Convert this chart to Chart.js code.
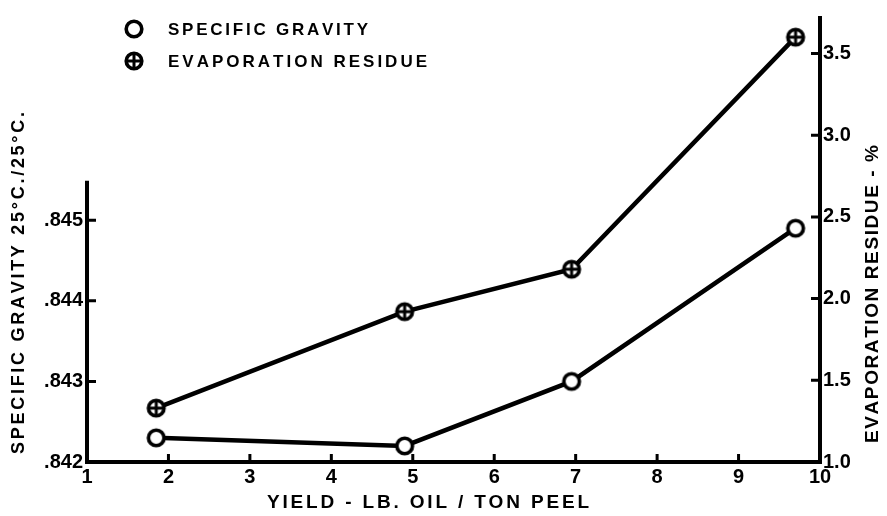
<!DOCTYPE html>
<html>
<head>
<meta charset="utf-8">
<script src="https://cdn.jsdelivr.net/npm/chart.js@4/dist/chart.umd.min.js"></script>
<style>
  html, body { margin: 0; padding: 0; background: #fff; }
  #wrap { width: 887px; height: 516px; position: relative; }
</style>
</head>
<body>
<div id="wrap"><canvas id="c" width="887" height="516"></canvas></div>
<script>
// ---- data ----
const yieldValues = [1.85, 4.9, 6.95, 9.7];            // lb. oil / ton peel
const specificGravity = [0.8423, 0.8422, 0.8430, 0.8449];
const evaporationResidue = [1.33, 1.92, 2.18, 3.60];   // %
const xTickValues = [1, 2, 3, 4, 5, 6, 7, 8, 9, 10];
const sgTickValues = [0.842, 0.843, 0.844, 0.845];
const erTickValues = [1.0, 1.5, 2.0, 2.5, 3.0, 3.5];
const seriesNames = ['SPECIFIC GRAVITY', 'EVAPORATION RESIDUE'];
const xTitle = 'YIELD - LB. OIL / TON PEEL';
const leftTitle = 'SPECIFIC GRAVITY 25°C./25°C.';
const rightTitle = 'EVAPORATION RESIDUE - %';

const INK = '#000';
const FONT = '"Liberation Sans", Arial, sans-serif';

function makeMarker(plus) {
  const c = document.createElement('canvas');
  c.width = 24; c.height = 24;
  const g = c.getContext('2d');
  g.beginPath();
  g.arc(12, 12, 7.8, 0, Math.PI * 2);
  g.fillStyle = '#fff';
  g.fill();
  g.lineWidth = 3.6;
  g.strokeStyle = INK;
  g.stroke();
  if (plus) {
    g.lineWidth = 3;
    g.beginPath();
    g.moveTo(5, 12); g.lineTo(19, 12);
    g.moveTo(12, 5); g.lineTo(12, 19);
    g.stroke();
  }
  return c;
}
const openMarker = makeMarker(false);
const plusMarker = makeMarker(true);

function spacedText(ctx, text, x, y, target) {
  // draws text starting at x with letter spacing so that total width ~ target
  const chars = [...text];
  let w = 0;
  const ws = chars.map(ch => { const m = ctx.measureText(ch).width; w += m; return m; });
  const gap = chars.length > 1 ? (target - w) / (chars.length - 1) : 0;
  let cx = x;
  chars.forEach((ch, i) => { ctx.fillText(ch, cx, y); cx += ws[i] + gap; });
}

const decorPlugin = {
  id: 'decor',
  afterDatasetsDraw(chart) {
    const ctx = chart.ctx;
    const xs = chart.scales.x, yl = chart.scales.ySG, yr = chart.scales.yER;
    ctx.save();
    ctx.strokeStyle = INK;
    ctx.lineCap = 'butt';
    // axis lines
    ctx.lineWidth = 4;
    ctx.beginPath();
    ctx.moveTo(xs.getPixelForValue(1), yl.getPixelForValue(0.84549));
    ctx.lineTo(xs.getPixelForValue(1), yl.getPixelForValue(0.842) + 2);
    ctx.moveTo(xs.getPixelForValue(1) - 2, yl.getPixelForValue(0.842));
    ctx.lineTo(xs.getPixelForValue(10) + 2, yl.getPixelForValue(0.842));
    ctx.moveTo(xs.getPixelForValue(10), yr.top);
    ctx.lineTo(xs.getPixelForValue(10), yl.getPixelForValue(0.842) + 2);
    ctx.stroke();
    // inward tick marks
    ctx.lineWidth = 3;
    ctx.beginPath();
    const x0 = xs.getPixelForValue(1), x1 = xs.getPixelForValue(10);
    const yb = yl.getPixelForValue(0.842);
    xTickValues.forEach(v => {
      if (v === 1 || v === 10) return;
      const px = xs.getPixelForValue(v);
      ctx.moveTo(px, yb); ctx.lineTo(px, yb - 8);
    });
    sgTickValues.forEach(v => {
      if (v === 0.842) return;
      const py = yl.getPixelForValue(v);
      ctx.moveTo(x0, py); ctx.lineTo(x0 + 9, py);
    });
    erTickValues.forEach(v => {
      if (v === 1.0) return;
      const py = yr.getPixelForValue(v);
      ctx.moveTo(x1, py); ctx.lineTo(x1 - 9, py);
    });
    ctx.stroke();

    // legend
    ctx.fillStyle = INK;
    ctx.font = 'bold 17px ' + FONT;
    ctx.textBaseline = 'middle';
    ctx.textAlign = 'left';
    ctx.drawImage(openMarker, 134 - 12, 29 - 12);
    ctx.drawImage(plusMarker, 134 - 12, 61 - 12);
    spacedText(ctx, seriesNames[0], 168, 30, 200);
    spacedText(ctx, seriesNames[1], 168, 62, 259);

    // x title
    ctx.font = 'bold 19px ' + FONT;
    spacedText(ctx, xTitle, 267, 503, 322);

    // left title (rotated)
    ctx.font = 'bold 18px ' + FONT;
    ctx.save();
    ctx.translate(19, 454);
    ctx.rotate(-Math.PI / 2);
    spacedText(ctx, leftTitle, 0, 0, 342);
    ctx.restore();

    // right title (rotated)
    ctx.font = 'bold 19px ' + FONT;
    ctx.save();
    ctx.translate(873, 443);
    ctx.rotate(-Math.PI / 2);
    spacedText(ctx, rightTitle, 0, 0, 298);
    ctx.restore();

    ctx.restore();
  }
};

const tickFont = { family: FONT, size: 20, weight: 'bold' };

new Chart(document.getElementById('c'), {
  type: 'line',
  data: {
    datasets: [
      {
        label: seriesNames[0],
        data: yieldValues.map((x, i) => ({ x, y: specificGravity[i] })),
        yAxisID: 'ySG',
        borderColor: INK,
        borderWidth: 4.5,
        pointStyle: openMarker,
        pointRadius: 10,
        tension: 0
      },
      {
        label: seriesNames[1],
        data: yieldValues.map((x, i) => ({ x, y: evaporationResidue[i] })),
        yAxisID: 'yER',
        borderColor: INK,
        borderWidth: 4.5,
        pointStyle: plusMarker,
        pointRadius: 10,
        tension: 0
      }
    ]
  },
  options: {
    responsive: false,
    animation: false,
    layout: { padding: { top: 10, left: 0, right: 0, bottom: 0 } },
    plugins: { legend: { display: false }, tooltip: { enabled: false } },
    scales: {
      x: {
        type: 'linear',
        min: 1, max: 10,
        grid: { display: false, drawTicks: false },
        border: { display: false },
        afterBuildTicks: s => { s.ticks = xTickValues.map(v => ({ value: v })); },
        afterFit: s => { s.height = 54; },
        ticks: { color: INK, font: tickFont, padding: 3, maxRotation: 0, autoSkip: false,
                 callback: v => String(v) }
      },
      ySG: {
        type: 'linear',
        position: 'left',
        min: 0.842, max: 0.847532,
        grid: { display: false, drawTicks: false },
        border: { display: false },
        afterBuildTicks: s => { s.ticks = sgTickValues.map(v => ({ value: v })); },
        afterFit: s => { s.width = 87; },
        ticks: { color: INK, font: tickFont, padding: 4, autoSkip: false,
                 callback: v => Number(v).toFixed(3).replace(/^0/, '') }
      },
      yER: {
        type: 'linear',
        position: 'right',
        min: 1.0, max: 3.7295,
        grid: { display: false, drawTicks: false },
        border: { display: false },
        afterBuildTicks: s => { s.ticks = erTickValues.map(v => ({ value: v })); },
        afterFit: s => { s.width = 67; },
        ticks: { color: INK, font: tickFont, padding: 3, autoSkip: false,
                 callback: v => Number(v).toFixed(1) }
      }
    }
  },
  plugins: [decorPlugin]
});
</script>
</body>
</html>
